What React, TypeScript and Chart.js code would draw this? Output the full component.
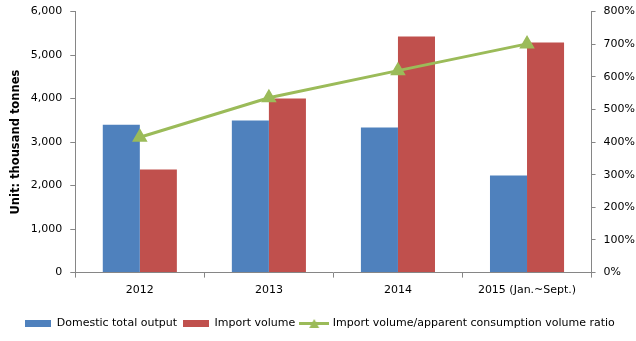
import React, { useEffect, useRef } from "react";
import { Chart, registerables } from "chart.js";

Chart.register(...registerables);

const categories = ["2012", "2013", "2014", "2015 (Jan.~Sept.)"];
const domesticOutput = [3400, 3495, 3335, 2232];
const importVolume = [2368, 4000, 5430, 5287];
const importRatio = [415, 536, 619, 701];
const leftTicks = { min: 0, max: 6000, step: 1000 };
const rightTicks = { min: 0, max: 800, step: 100 };

const BLUE = "#4F81BD";
const RED = "#C0504D";
const GREEN = "#9BBB59";
const AXIS = "#868686";
const FONT = "'DejaVu Sans', Verdana, sans-serif";

function boxStyle(color: string) {
  const c = document.createElement("canvas");
  c.width = 26;
  c.height = 7;
  const x = c.getContext("2d")!;
  x.fillStyle = color;
  x.fillRect(0, 0, 26, 7);
  return c;
}

function lineStyle(color: string) {
  const c = document.createElement("canvas");
  c.width = 30;
  c.height = 11;
  const x = c.getContext("2d")!;
  x.strokeStyle = color;
  x.lineWidth = 3;
  x.beginPath();
  x.moveTo(0, 5.5);
  x.lineTo(30, 5.5);
  x.stroke();
  x.fillStyle = color;
  x.beginPath();
  x.moveTo(15, 1);
  x.lineTo(20, 10);
  x.lineTo(10, 10);
  x.closePath();
  x.fill();
  return c;
}

const legendShift = {
  id: "legendShift",
  afterLayout(chart: any) {
    if (chart.legend) {
      chart.legend.left -= 6;
      chart.legend.right -= 6;
    }
  },
};

export default function App() {
  const ref = useRef<HTMLCanvasElement>(null);
  useEffect(() => {
    document.body.style.margin = "0";
    const styles = [boxStyle(BLUE), boxStyle(RED), lineStyle(GREEN)];
    const chart = new Chart(ref.current!, {
      type: "bar",
      plugins: [legendShift],
      data: {
        labels: categories,
        datasets: [
          {
            type: "line",
            label: "Import volume/apparent consumption volume ratio",
            data: importRatio,
            yAxisID: "y1",
            borderColor: GREEN,
            backgroundColor: GREEN,
            borderWidth: 3,
            pointStyle: "triangle",
            pointRadius: 6,
            pointBackgroundColor: GREEN,
            pointBorderColor: GREEN,
            order: 0,
          } as any,
          {
            label: "Domestic total output",
            data: domesticOutput,
            backgroundColor: BLUE,
            yAxisID: "y",
            order: 1,
            categoryPercentage: 0.574,
            barPercentage: 1,
          },
          {
            label: "Import volume",
            data: importVolume,
            backgroundColor: RED,
            yAxisID: "y",
            order: 1,
            categoryPercentage: 0.574,
            barPercentage: 1,
          },
        ],
      },
      options: {
        animation: false,
        responsive: false,
        maintainAspectRatio: false,
        layout: { padding: { left: 9, right: -7, top: 4, bottom: 2 } },
        plugins: {
          tooltip: { enabled: false },
          legend: {
            position: "bottom",
            labels: {
              usePointStyle: true,
              pointStyleWidth: 26,
              boxHeight: 7,
              padding: 6,
              color: "#000",
              font: { family: FONT, size: 11 },
              generateLabels: (ch: any) => {
                const order = [1, 2, 0];
                return order.map((i, k) => ({
                  text: ch.data.datasets[i].label,
                  pointStyle: styles[k],
                  datasetIndex: i,
                  fillStyle: "transparent",
                  strokeStyle: "transparent",
                  lineWidth: 0,
                  hidden: false,
                  fontColor: "#000",
                }));
              },
            },
          },
        },
        scales: {
          x: {
            grid: {
              display: true,
              drawOnChartArea: false,
              drawTicks: true,
              tickLength: 5,
              color: AXIS,
            },
            border: { display: true, color: AXIS, width: 1 },
            ticks: { color: "#000", font: { family: FONT, size: 11 }, padding: 6 },
            title: {
              display: true,
              text: "",
              font: { family: FONT, size: 1 },
              padding: { top: 0, bottom: 8 },
            },
          },
          y: {
            position: "left",
            min: leftTicks.min,
            max: leftTicks.max,
            grid: {
              display: true,
              drawOnChartArea: false,
              drawTicks: true,
              tickLength: 5,
              color: AXIS,
            },
            border: { display: true, color: AXIS, width: 1 },
            ticks: {
              stepSize: leftTicks.step,
              color: "#000",
              font: { family: FONT, size: 11 },
              padding: 8,
              callback: (v: any) => Number(v).toLocaleString("en-US"),
            },
            title: {
              display: true,
              text: "Unit: thousand tonnes",
              color: "#000",
              font: { family: FONT, size: 11.5, weight: "bold" },
              padding: { top: 0, bottom: 0 },
            },
          },
          y1: {
            position: "right",
            min: rightTicks.min,
            max: rightTicks.max,
            grid: {
              display: true,
              drawOnChartArea: false,
              drawTicks: true,
              tickLength: 4,
              color: AXIS,
            },
            border: { display: true, color: AXIS, width: 1 },
            ticks: {
              stepSize: rightTicks.step,
              color: "#000",
              font: { family: FONT, size: 11 },
              padding: 8,
              callback: (v: any) => `${v}%`,
            },
          },
        },
      },
    });
    return () => chart.destroy();
  }, []);
  return (
    <div style={{ width: 636, height: 341, overflow: "hidden" }}>
      <canvas
        ref={ref}
        width={636}
        height={344}
        style={{ width: 636, height: 344, display: "block", marginTop: -3 }}
      />
    </div>
  );
}
